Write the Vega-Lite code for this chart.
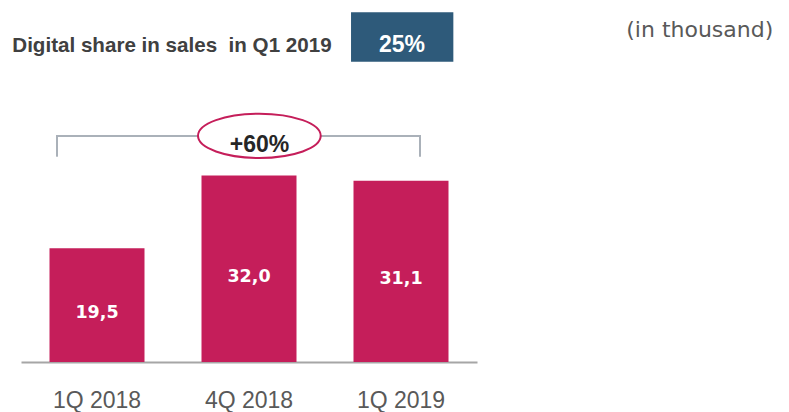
{
  "$schema": "https://vega.github.io/schema/vega-lite/v6.json",
  "width": 456,
  "height": 362,
  "autosize": {"type": "none"},
  "padding": {"left": 21, "top": 0, "right": 312, "bottom": 50},
  "background": "white",
  "config": {
    "view": {"stroke": null},
    "axisX": {
      "labelFont": "Liberation Sans",
      "labelFontSize": 23,
      "labelColor": "#595959",
      "labelAngle": 0,
      "ticks": false,
      "grid": false,
      "domainColor": "#a6a6a6",
      "domainWidth": 2,
      "labelPadding": 27
    }
  },
  "data": {
    "values": [
      {"period": "1Q 2018", "value": 19.5, "label": "19,5"},
      {"period": "4Q 2018", "value": 32.0, "label": "32,0"},
      {"period": "1Q 2019", "value": 31.1, "label": "31,1"}
    ]
  },
  "layer": [
    {
      "layer": [
        {
          "mark": {"type": "bar", "color": "#c51e5a"},
          "encoding": {
            "x": {
              "field": "period",
              "type": "nominal",
              "sort": null,
              "title": null,
              "scale": {"domain": ["1Q 2018", "4Q 2018", "1Q 2019"], "paddingInner": 0.375, "paddingOuter": 0.1875}
            },
            "y": {
              "field": "value",
              "type": "quantitative",
              "scale": {"domain": [0, 62.1], "nice": false, "zero": true},
              "axis": null
            }
          }
        },
        {
          "data": {"values": [{"metric": "Digital share in sales \u00a0in Q1 2019", "share": "25%", "unit": "(in thousand)"}]},
          "layer": [
            {
              "mark": {"type": "text", "align": "left", "baseline": "middle", "font": "Liberation Sans", "fontWeight": "bold", "fontSize": 20.6, "color": "#404040"},
              "encoding": {
                "x": {"datum": "1Q 2018", "type": "nominal", "bandPosition": -0.392, "title": null},
                "y": {"datum": 54.23, "type": "quantitative", "axis": null},
                "text": {"field": "metric"}
              }
            },
            {
              "mark": {"type": "rect", "color": "#2e5a7a"},
              "encoding": {
                "x": {"datum": "1Q 2019", "type": "nominal", "bandPosition": -0.026, "title": null},
                "x2": {"datum": "1Q 2019", "bandPosition": 1.051},
                "y": {"datum": 59.99, "type": "quantitative", "axis": null},
                "y2": {"datum": 51.52}
              }
            },
            {
              "mark": {"type": "text", "align": "center", "baseline": "middle", "font": "Liberation Sans", "fontWeight": "bold", "fontSize": 23, "color": "white"},
              "encoding": {
                "x": {"datum": "1Q 2019", "type": "nominal", "bandPosition": 0.511, "title": null},
                "y": {"datum": 54.38, "type": "quantitative", "axis": null},
                "text": {"field": "share"}
              }
            },
            {
              "mark": {"type": "text", "align": "right", "baseline": "middle", "font": "DejaVu Sans", "fontSize": 22, "color": "#595959"},
              "encoding": {
                "x": {"datum": "1Q 2019", "type": "nominal", "bandPosition": 4.419, "title": null},
                "y": {"datum": 56.9, "type": "quantitative", "axis": null},
                "text": {"field": "unit"}
              }
            }
          ]
        },
        {
          "data": {"values": [{"from": "1Q 2018", "to": "1Q 2019", "growth": "+60%"}]},
          "layer": [
            {
              "mark": {"type": "rule", "color": "#aab1b9", "strokeWidth": 2, "strokeCap": "square"},
              "encoding": {
                "x": {"field": "from", "type": "nominal", "bandPosition": 0.079, "title": null},
                "x2": {"field": "to", "bandPosition": 0.70},
                "y": {"datum": 38.77, "type": "quantitative", "axis": null}
              }
            },
            {
              "mark": {"type": "rule", "color": "#aab1b9", "strokeWidth": 2, "strokeCap": "square"},
              "encoding": {
                "x": {"field": "from", "type": "nominal", "bandPosition": 0.079, "title": null},
                "y": {"datum": 38.77, "type": "quantitative", "axis": null},
                "y2": {"datum": 35.39}
              }
            },
            {
              "mark": {"type": "rule", "color": "#aab1b9", "strokeWidth": 2, "strokeCap": "square"},
              "encoding": {
                "x": {"field": "to", "type": "nominal", "bandPosition": 0.70, "title": null},
                "y": {"datum": 38.77, "type": "quantitative", "axis": null},
                "y2": {"datum": 35.39}
              }
            },
            {
              "mark": {"type": "point", "shape": "M-1,0A1,0.361,0,1,1,1,0A1,0.361,0,1,1,-1,0Z", "size": 15055, "filled": true, "fill": "white", "stroke": "#c51e5a", "strokeWidth": 2, "opacity": 1},
              "encoding": {
                "x": {"datum": "4Q 2018", "type": "nominal", "bandPosition": 0.609, "title": null},
                "y": {"datum": 38.80, "type": "quantitative", "axis": null}
              }
            },
            {
              "mark": {"type": "text", "align": "center", "baseline": "middle", "font": "Liberation Sans", "fontWeight": "bold", "fontSize": 23, "color": "#262626"},
              "encoding": {
                "x": {"datum": "4Q 2018", "type": "nominal", "bandPosition": 0.611, "title": null},
                "y": {"datum": 37.19, "type": "quantitative", "axis": null},
                "text": {"field": "growth"}
              }
            }
          ]
        }
      ]
    },
    {
      "mark": {"type": "text", "align": "center", "baseline": "middle", "font": "DejaVu Sans", "fontWeight": "bold", "fontSize": 17.5, "color": "white", "dy": 8},
      "encoding": {
        "x": {"field": "period", "type": "nominal", "sort": null, "title": null},
        "y": {
          "field": "value",
          "type": "quantitative",
          "scale": {"domain": [0, 124.2], "nice": false, "zero": true},
          "axis": null
        },
        "text": {"field": "label"}
      }
    }
  ],
  "resolve": {"scale": {"y": "independent"}}
}
